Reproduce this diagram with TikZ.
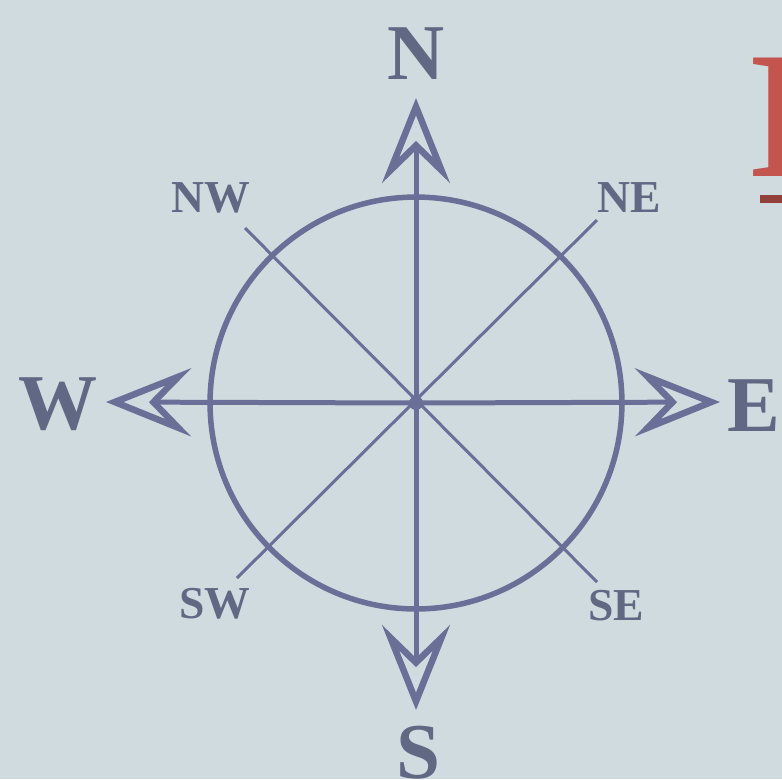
\documentclass[tikz,border=0pt]{standalone}
\usepackage{fontspec}
\setmainfont{Liberation Serif}
\usetikzlibrary{arrows.meta}
\definecolor{sky}{RGB}{207,219,223}
\definecolor{rose}{RGB}{106,111,152}
\definecolor{ink}{RGB}{96,104,131}
\definecolor{title}{RGB}{196,84,78}

\begin{document}
\begin{tikzpicture}[x=0.02cm, y=-0.02cm,
  rim/.style={draw=rose, line width=0.11cm},
  spoke/.style={draw=rose, line width=0.1cm, -{Stealth[open, length=1.7cm, width=1.36cm, inset=0.66cm, line width=0.13cm]}},
  diag/.style={draw=rose, line width=0.06cm},
  big/.style={inner sep=0, text=ink, font=\fontsize{45}{45}\selectfont\bfseries},
  small/.style={inner sep=0, text=ink, font=\fontsize{26}{26}\selectfont\bfseries}]
\fill[sky] (0,0) rectangle (782,779);
\useasboundingbox (0,0) rectangle (782,779);

% Compass dial
\coordinate (c) at (416,403);
\node[rim, circle, minimum size=8.24cm, inner sep=0] (dial) at (c) {};
\coordinate (ntip) at (416,98);
\coordinate (stip) at (416,710);
\coordinate (wtip) at (106,402);
\coordinate (etip) at (720,402);
\draw[spoke] (c) -- (ntip);
\draw[spoke] (c) -- (stip);
\draw[spoke] (c) -- (wtip);
\draw[spoke] (c) -- (etip);
\fill[rose] (c) circle (0.14cm);

% Diagonals
\coordinate (nwend) at (245,228);
\coordinate (neend) at (597,220);
\coordinate (swend) at (237,578);
\coordinate (seend) at (597,582);
\draw[diag] (nwend) -- (seend);
\draw[diag] (neend) -- (swend);

% Labels
\node[big] (n) at (416,54) {N};
\node[big] (w) at (58,404) {W};
\node[big] (e) at (754,406) {E};
\node[big] (s) at (418,753) {S};
\node[small] (nw) at (211,198) {NW};
\node[small] (ne) at (629,198) {NE};
\node[small] (sw) at (215,604) {SW};
\node[small] (se) at (616,606) {SE};

% Heading (cut off)
\node[inner sep=0, anchor=north west, text=title, font=\fontsize{103}{103}\selectfont\bfseries] (head) at (747,58) {I};
\draw[draw=title!75!black, line width=0.16cm] (760,199) -- (790,199);
\end{tikzpicture}
\end{document}
